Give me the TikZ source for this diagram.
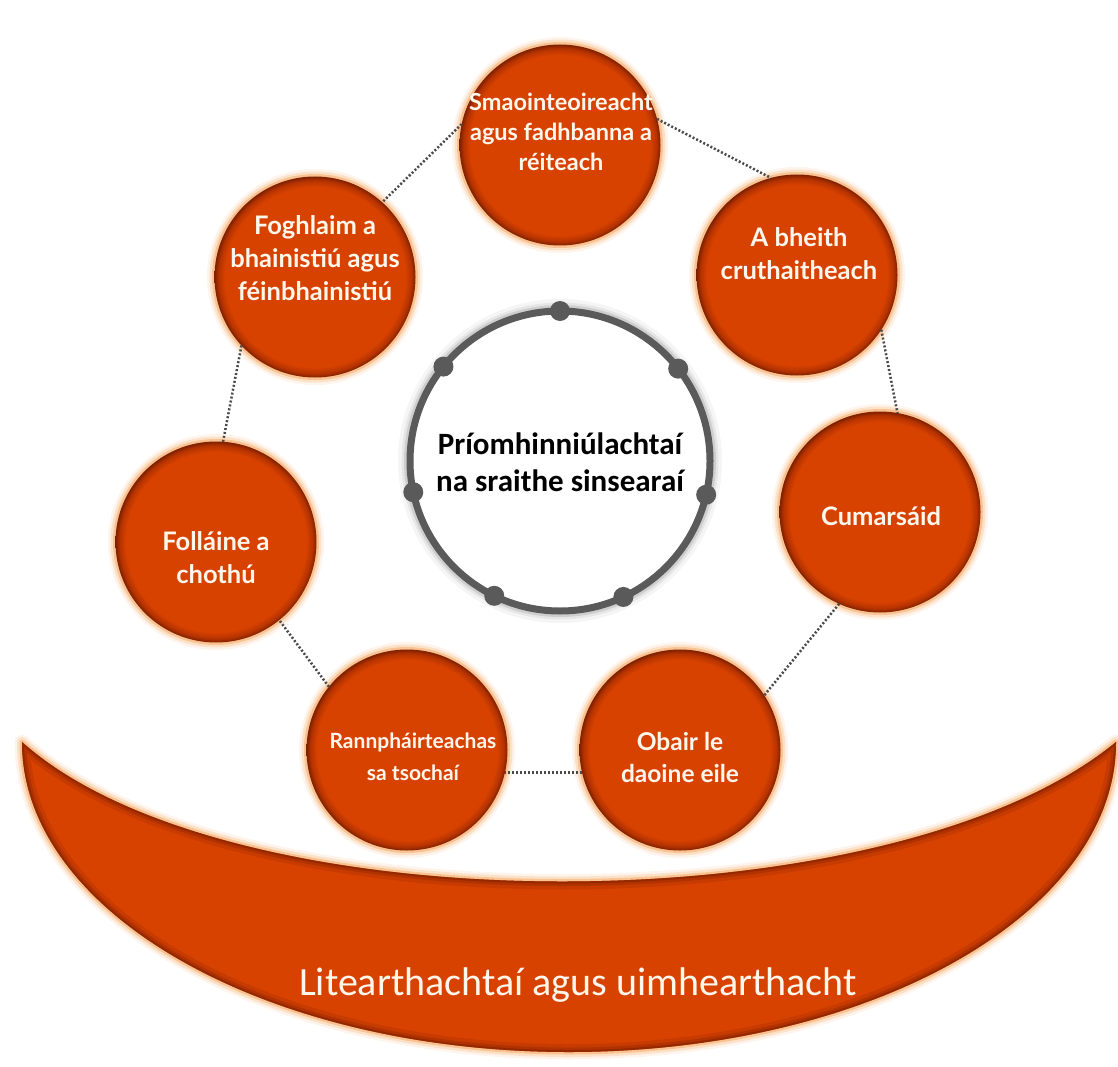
\documentclass[tikz,border=0pt]{standalone}
\usepackage{fontspec}
\setmainfont{Carlito}
\newfontfamily\lato{Lato}
\newfontfamily\carlito{Carlito}
\definecolor{orfill}{HTML}{D84200}
\definecolor{ormid}{HTML}{B53300}
\definecolor{orrim}{HTML}{7E2000}
\definecolor{glowc}{HTML}{F9A964}
\definecolor{txtw}{HTML}{FFF6EC}
\definecolor{ringc}{HTML}{5A5A5A}
\definecolor{dotc}{HTML}{4A4A4A}
\pgfdeclareradialshading{orbshade}{\pgfpoint{0bp}{0bp}}{color(0bp)=(orfill); color(22.4bp)=(orfill); color(24bp)=(ormid); color(25bp)=(orrim); color(50bp)=(orrim)}
\tikzset{
  orb/.style={circle, minimum size=201pt, inner sep=0pt, outer sep=0pt, shade, shading=orbshade,
    preaction={draw=glowc, line width=15pt, draw opacity=.12},
    preaction={draw=glowc, line width=10pt, draw opacity=.25},
    preaction={draw=glowc, line width=5pt, draw opacity=.55}},
  orbtext/.style={align=center, text=txtw, font=\lato\bfseries\fontsize{25.5}{33}\selectfont},
  link/.style={draw=dotc, line width=2.5pt, dash pattern=on 2pt off 2pt},
  ringdot/.style={fill=ringc}
}
\def\crescentpath{(22,742) arc[start angle=180, end angle=360, x radius=547pt, y radius=310pt] .. controls (890,928) and (230,928) .. (22,742) -- cycle}
\begin{document}
\begin{tikzpicture}[x=1pt, y=-1pt, line join=round]
\fill[white] (0,0) rectangle (1118,1067);
\useasboundingbox (0,0) rectangle (1118,1067);

% crescent
\draw[glowc, line width=15pt, opacity=.12] \crescentpath;
\draw[glowc, line width=10pt, opacity=.25] \crescentpath;
\draw[glowc, line width=5pt, opacity=.55] \crescentpath;
\fill[orfill] \crescentpath;
\begin{scope}
  \clip \crescentpath;
  \draw[orrim, line width=16pt, opacity=.18] \crescentpath;
  \draw[orrim, line width=9pt, opacity=.3] \crescentpath;
  \draw[orrim, line width=4pt, opacity=.55] \crescentpath;
\end{scope}
\node[font=\carlito\fontsize{40}{44}\selectfont, text=txtw] (lit) at (578,985) {Litearthachtaí agus uimhearthacht};

% outer circles
\node[orb] (c1) at (560,145) {};
\node[orb] (c2) at (797,275) {};
\node[orb] (c3) at (880,512) {};
\node[orb] (c4) at (680,750) {};
\node[orb] (c5) at (407,750) {};
\node[orb] (c6) at (216,542) {};
\node[orb] (c7) at (315,277) {};

% dotted links
\draw[link] (c1.168) -- (c7.48);
\draw[link] (c1.15) -- (c2.105);
\draw[link] (c2.-33) -- (c3.80);
\draw[link] (c3.-114) -- (c4.33);
\draw[link] (c4.193) -- (c5.-13);
\draw[link] (c5.141) -- (c6.-51);
\draw[link] (c6.86) -- (c7.223);

\node[orbtext, font=\lato\bfseries\fontsize{23.5}{30}\selectfont] (t1) at (561,132) {Smaointeoireacht\\agus fadhbanna a\\réiteach};
\node[orbtext] (t2) at (799,254) {A bheith\\cruthaitheach};
\node[orbtext] (t3) at (881,516) {Cumarsáid};
\node[orbtext, font=\lato\bfseries\fontsize{24.5}{32}\selectfont] (t4) at (680,757) {Obair le\\daoine eile};
\node[orbtext, font=\lato\bfseries\fontsize{21}{32}\selectfont] (t5) at (413,757) {Rannpháirteachas\\sa tsochaí};
\node[orbtext] (t6) at (216,558) {Folláine a\\chothú};
\node[orbtext] (t7) at (315,258) {Foghlaim a\\bhainistiú agus\\féinbhainistiú};

% central ring
\node[circle, minimum size=300pt, inner sep=0pt, outer sep=0pt, fill=white, draw=ringc, line width=7pt,
  preaction={draw=black, line width=24pt, draw opacity=.04},
  preaction={draw=black, line width=17pt, draw opacity=.06},
  preaction={draw=black, line width=12pt, draw opacity=.1}] (ring) at (560,461) {};
\foreach \k in {0,...,6} {
  \fill[ringdot] (ring.{90+\k*360/7}) circle (10pt);
}
\node[font=\carlito\bfseries\fontsize{31}{37}\selectfont, align=center, text=black] (ctext) at (560,462) {Príomhinniúlachtaí\\na sraithe sinsearaí};
\end{tikzpicture}
\end{document}
